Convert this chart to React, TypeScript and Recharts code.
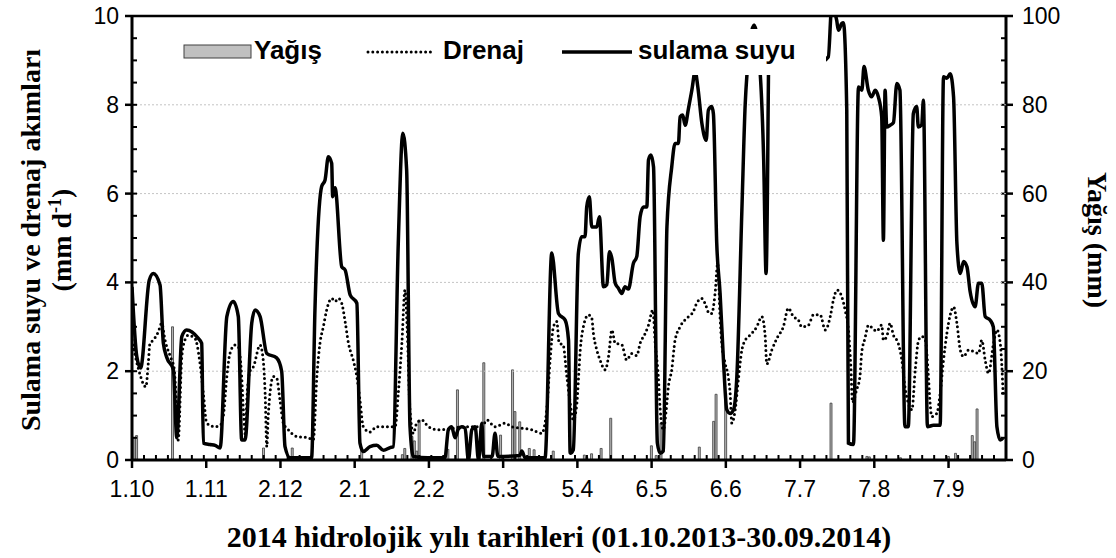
import React from "react";
import { ComposedChart, Bar, Line, XAxis, YAxis, ReferenceLine, Legend } from "recharts";

const W = 1116;
const H = 558;
const SANS = "'Liberation Sans', Arial, sans-serif";
const SERIF = "'Liberation Serif', 'Times New Roman', serif";

// x = day index from 01.10.2013
const xMajorDays = [0, 31, 62, 93, 124, 155, 186, 217, 248, 279, 310, 341];
const xMajorLabels = ["1.10", "1.11", "2.12", "2.1", "2.2", "5.3", "5.4", "6.5", "6.6", "7.7", "7.8", "7.9"];
const xMinorDays = Array.from({ length: 74 }, (_, i) => i * 5);
const xTicks = [...new Set([...xMinorDays, ...xMajorDays])].sort((a, b) => a - b);

const leftMajor = [0, 2, 4, 6, 8, 10];
const leftTicks = Array.from({ length: 21 }, (_, i) => i * 0.5);
const rightMajor = [0, 20, 40, 60, 80, 100];
const rightTicks = Array.from({ length: 21 }, (_, i) => i * 5);
const gridValues = [2, 4, 6, 8];

// sulama suyu (mm/d) [day, value]
const sulama: [number, number][] = [
  [0, 3.9], [2, 2.33], [3.6, 2.07], [7.2, 4.05], [8.9, 4.2], [11.7, 3.94], [13.1, 2.63], [14.6, 2.3],
  [17.3, 2.03], [18.7, 0.5], [20.8, 2.78], [22.8, 2.93], [27.7, 2.74], [29.1, 2.63], [29.8, 0.38],
  [32.6, 0.35], [34.7, 0.33], [36.8, 0.27], [39.6, 3.23], [42.3, 3.57], [44.4, 3.23], [45.8, 0.45],
  [47.2, 0.45], [50, 3.08], [51.4, 3.38], [53.5, 3.23], [56.3, 2.4], [60.4, 2.3], [62.5, 2.0],
  [63.9, 0.3], [66, 0.05], [75, 0.05], [76.4, 3.38], [79.2, 6.16], [80.6, 6.3], [82, 6.83],
  [83.4, 6.68], [83.8, 5.93], [84.8, 6.13], [87.6, 4.35], [89, 4.28], [91.1, 3.72], [93.9, 3.53],
  [95.2, 0.38], [96.6, 0.19], [99.4, 0.3], [102.2, 0.33], [105, 0.22], [107.8, 0.28], [109.1, 0.3],
  [111.2, 4.88], [113.1, 7.36], [114.7, 6.53], [116.1, 0.75], [117.5, 0.08], [123.6, 0.05],
  [130.7, 0.05], [132.1, 0.68], [133.5, 0.75], [134.9, 0.5], [136.3, 0.7], [137.7, 0.75],
  [139.1, 0.72], [140.5, 0], [141.9, 0.68], [143.3, 0.75], [144.7, 0], [146.1, 0.83], [146.8, 0.08],
  [150.4, 0.08], [151.6, 0.6], [152.8, 0.08], [162, 0.1], [162.8, 0.2], [164.2, 0.05], [172.5, 0.05],
  [175.3, 4.66], [178.1, 3.3], [180.9, 3.15], [182.3, 2.7], [183, 0.15], [184.3, 0.23], [186.4, 4.65],
  [187.8, 5.03], [189.2, 5.03], [189.9, 5.7], [191, 5.93], [192, 5.25], [194.1, 5.25], [195.2, 5.48],
  [196.9, 3.9], [198.3, 3.95], [199.4, 4.69], [200.4, 4.54], [201.8, 3.98], [203.1, 3.87],
  [204.5, 3.75], [205.9, 3.9], [207.3, 3.85], [209.4, 4.43], [210.8, 4.58], [212.2, 5.48],
  [213.6, 5.7], [215, 5.7], [215.7, 6.76], [216.7, 6.87], [217.8, 6.6], [219.4, 0.38], [220.6, 0.15],
  [221.9, 0.2], [223.4, 5.25], [225.4, 6.6], [226.8, 7.13], [228.2, 7.13], [228.9, 7.73], [230, 7.77],
  [231, 7.54], [232.4, 7.92], [233.8, 8.33], [235.2, 8.75], [236.3, 8.4], [238, 7.58], [239.8, 7.2],
  [240.7, 7.88], [242.1, 7.96], [242.8, 7.8], [244.2, 4.88], [245.6, 3.75], [247, 2.25], [248.4, 1.13],
  [249.8, 1.05], [251.2, 1.13], [252.6, 1.88], [254.7, 5.63], [256.1, 8.03], [256.8, 8.67],
  [259.8, 9.8], [262.4, 8.67], [263.8, 6.76], [264.8, 4.2], [265.5, 6.76], [265.8, 8.67], [268, 9.3],
  [274, 9.2], [281, 9.1], [287, 8.95], [290.8, 9.08], [292.2, 10.2], [294.3, 9.9], [295, 9.68],
  [296.4, 9.83], [297.1, 9.85], [298.5, 7.88], [299.2, 0.38], [301.3, 0.35], [303.4, 8.4],
  [304.8, 8.33], [305.7, 8.86], [307.5, 8.33], [308.9, 8.18], [310.4, 8.33], [311.7, 8.18],
  [313.1, 7.73], [313.8, 4.95], [314.5, 8.33], [315.2, 7.5], [316.6, 7.54], [318, 7.6], [319.4, 8.48],
  [320.7, 8.33], [322.8, 0.75], [324.2, 0.75], [326.3, 7.8], [327.7, 7.96], [328.4, 7.5],
  [329.8, 7.55], [330.5, 8.1], [332.2, 0.75], [334.7, 0.78], [337.5, 0.78], [338.9, 8.63],
  [340.3, 8.6], [341.7, 8.7], [343.1, 8.18], [344.5, 4.88], [345.9, 4.2], [347.3, 4.47], [348.7, 4.35],
  [350, 3.8], [352.1, 3.45], [353.5, 3.98], [354.9, 3.98], [356.3, 3.23], [358.4, 3.15], [359.7, 3.0],
  [361.2, 0.75], [362.6, 0.45], [363.8, 0.5],
];

// drenaj (mm/d) [day, value]
const drenaj: [number, number][] = [
  [0, 2.7], [2.6, 2.07], [5.8, 1.65], [6.8, 2.18], [7.5, 2.63], [8.9, 2.7], [11, 2.89], [12.4, 3.08],
  [13.8, 2.7], [16.6, 2.25], [17.5, 2.1], [18.7, 1.13], [19.3, 0.45], [20.8, 2.33], [22.1, 2.7],
  [23.5, 2.81], [26.3, 2.74], [28.4, 2.18], [29.8, 1.5], [31.2, 0.83], [34.7, 0.75], [36.8, 0.78],
  [38.1, 0.98], [39.6, 1.88], [40.9, 2.4], [43, 2.59], [44.4, 2.55], [45.8, 1.88], [46.5, 1.13],
  [47.4, 0.55], [48, 1.4], [49.3, 2.0], [50.7, 2.1], [53.5, 2.59], [54.8, 2.25], [55.6, 1.5],
  [56.3, 0.3], [56.9, 1.0], [59, 1.88], [60.4, 1.85], [61.8, 1.35], [63.2, 0.83], [65.3, 0.68],
  [68.8, 0.53], [73.6, 0.5], [75.7, 0.45], [77.2, 1.88], [78.5, 2.63], [79.9, 3.0], [81.3, 3.38],
  [83.4, 3.64], [84.8, 3.57], [86.2, 3.64], [87.6, 3.53], [89, 3.12], [90.4, 2.63], [92.4, 2.25],
  [93.9, 1.88], [95.2, 1.35], [96.6, 0.75], [99.4, 0.63], [102.2, 0.75], [107.8, 0.75], [109.9, 0.75],
  [111.2, 1.5], [112.7, 2.63], [114, 3.83], [114.9, 3.0], [116.1, 1.13], [117.5, 0.6], [118.9, 0.83],
  [121, 0.9], [123.8, 0.75], [128, 0.68], [132.1, 0.7], [139.1, 0.75], [146.1, 0.75], [148.2, 0.9],
  [151.6, 0.75], [155.8, 0.83], [158.6, 0.75], [167, 0.68], [171.1, 0.6], [173.2, 1.13], [174.6, 2.25],
  [176, 3.0], [177.4, 3.12], [178.4, 2.63], [180, 2.6], [181.6, 1.88], [183, 1.28], [184.3, 0.9],
  [185.8, 1.28], [186.5, 1.88], [187.2, 2.48], [188.5, 3.0], [190.6, 3.27], [192, 3.2], [192.7, 2.85],
  [194.1, 2.48], [195.5, 2.25], [197.6, 2.03], [199, 2.33], [200.4, 2.93], [201.8, 2.63], [204.5, 2.6],
  [206.6, 2.25], [208.7, 2.4], [210.8, 2.35], [212.2, 2.63], [214.3, 2.85], [215.7, 3.04],
  [217.5, 3.38], [218.5, 2.63], [219.8, 1.88], [220.6, 1.13], [221.9, 0.68], [223.1, 1.13], [224, 1.65],
  [225.4, 2.03], [226.8, 2.7], [228.9, 3.0], [232.4, 3.23], [234.4, 3.34], [235.8, 3.53], [238, 3.64],
  [239.3, 3.53], [241.1, 3.3], [242.1, 3.3], [243.5, 3.75], [244.6, 4.43], [245.6, 3.2], [246.3, 2.63],
  [247.7, 2.18], [249, 1.88], [249.8, 1.5], [250.5, 0.83], [251.9, 1.13], [253.2, 1.8], [254.7, 2.48],
  [256.1, 2.7], [258.1, 2.81], [260.9, 3.0], [263, 3.23], [264.4, 2.81], [265.1, 2.16], [267.2, 2.48],
  [269.3, 2.74], [272, 3.0], [274.1, 3.42], [276.2, 3.23], [278.3, 3.15], [279.7, 3.0], [282.5, 3.04],
  [284.6, 3.27], [287.4, 3.27], [289.5, 2.93], [291.6, 3.23], [292.9, 3.6], [294.4, 3.83],
  [296.4, 3.68], [297.8, 3.38], [299.2, 2.93], [300.2, 2.1], [300.9, 1.3], [302.6, 1.58], [304, 1.88],
  [304.7, 2.4], [306.1, 2.74], [307.6, 3.04], [309.1, 2.98], [311, 2.9], [313.1, 3.04], [313.8, 2.7],
  [315.2, 2.78], [316.6, 3.08], [318, 2.81], [320, 2.63], [321.5, 2.25], [322.8, 1.65], [324.2, 1.28],
  [325.7, 1.13], [327.1, 2.03], [328.5, 2.7], [329.9, 2.78], [331.3, 2.7], [332.6, 1.88], [333.3, 1.28],
  [334, 0.98], [336.1, 1.05], [337.5, 1.5], [338.9, 2.25], [340.3, 2.85], [341.7, 3.27], [343.1, 3.45],
  [344.5, 3.08], [345.9, 2.48], [347.3, 2.33], [349.4, 2.48], [351.3, 2.45], [353.5, 2.4], [354.9, 2.7],
  [356.3, 2.25], [357.7, 1.95], [359.8, 2.63], [361.2, 2.93], [362.6, 2.63], [363.8, 1.5],
];

// yağış (mm) [day, value]
const yagis: [number, number][] = [
  [1, 5.0], [2, 5.5], [17, 30], [55, 2.7], [67, 2.7], [96, 2.3], [113, 1.2], [114, 2.6], [117, 5.3],
  [118, 4.3], [119, 2.0], [120, 9.0], [132, 2.4], [136, 15.8], [145, 1.5], [147, 21.9], [154, 5.6],
  [159, 20.3], [160, 10.9], [162, 8.6], [166, 2.6], [168, 2.3], [176, 2.0], [189, 1.1], [190, 0.6],
  [192, 1.4], [196, 2.6], [200, 9.4], [217, 3.2], [219, 1.0], [221, 8.3], [237, 2.9], [243, 8.7],
  [244, 14.8], [248, 15.0], [292, 12.8], [307, 0.8], [308, 0.7], [321, 0.5], [341, 0.8], [344, 1.5],
  [351, 5.5], [352, 4.1], [353, 11.5],
];

const lineRows = new Map<number, any>();
const put = (d: number, key: string, v: number) => {
  const r = lineRows.get(d) ?? { day: d };
  r[key] = v;
  lineRows.set(d, r);
};
sulama.forEach(([d, v]) => put(d, "sulama", v));
drenaj.forEach(([d, v]) => put(d, "drenaj", v));
const lineData = [...lineRows.values()].sort((a, b) => a.day - b.day);
const barData = yagis.map(([day, v]) => ({ day, yagis: v }));

const TICK_FONT = 23;

function XTick(props: any) {
  const { x, y, payload } = props;
  const v = payload.value;
  const i = xMajorDays.indexOf(v);
  return (
    <g>
      {v % 5 === 0 && <line x1={x} x2={x} y1={y - 5} y2={y} stroke="#000" strokeWidth={2} />}
      {i >= 0 && <line x1={x} x2={x} y1={y} y2={y + 8} stroke="#000" strokeWidth={2.5} />}
      {i >= 0 && (
        <text x={x} y={y + 37} textAnchor="middle" fontSize={TICK_FONT} fontFamily={SANS} fill="#000">
          {xMajorLabels[i]}
        </text>
      )}
    </g>
  );
}

// left axis: tickSize 0, tickMargin 0 -> x is the axis line
function leftTick(props: any) {
  const { x, y, payload } = props;
  const v = Number(payload.value);
  const major = leftMajor.includes(v);
  return (
    <g key={`l-${v}`}>
      <line x1={x} x2={x + 5} y1={y} y2={y} stroke="#000" strokeWidth={2} />
      {major && <line x1={x - 7} x2={x} y1={y} y2={y} stroke="#000" strokeWidth={2.5} />}
      {major && (
        <text x={x - 13} y={y + 8} textAnchor="end" fontSize={TICK_FONT} fontFamily={SANS} fill="#000">{v}</text>
      )}
    </g>
  );
}

function rightTick(props: any) {
  const { x, y, payload } = props;
  const v = Number(payload.value);
  const major = rightMajor.includes(v);
  return (
    <g key={`r-${v}`}>
      <line x1={x - 5} x2={x} y1={y} y2={y} stroke="#000" strokeWidth={2} />
      {major && <line x1={x} x2={x + 7} y1={y} y2={y} stroke="#000" strokeWidth={2.5} />}
      {major && (
        <text x={x + 16} y={y + 8} textAnchor="start" fontSize={TICK_FONT} fontFamily={SANS} fill="#000">{v}</text>
      )}
    </g>
  );
}

function XTitle() {
  return (
    <text x={559} y={547} textAnchor="middle" fontSize={30} fontWeight="bold" fontFamily={SERIF} fill="#000">
      2014 hidrolojik yılı tarihleri (01.10.2013-30.09.2014)
    </text>
  );
}

function LeftTitle() {
  return (
    <g fontSize={28} fontWeight="bold" fontFamily={SERIF} fill="#000">
      <text x={40} y={240} textAnchor="middle" transform="rotate(-90, 40, 240)">
        Sulama suyu ve drenaj akımları
      </text>
      <text x={71} y={240} textAnchor="middle" transform="rotate(-90, 71, 240)">
        (mm d<tspan dy={-10} fontSize={18}>-1</tspan><tspan dy={10}>)</tspan>
      </text>
    </g>
  );
}

function RightTitle() {
  return (
    <text x={1088} y={240} textAnchor="middle" transform="rotate(90, 1088, 240)"
          fontSize={28} fontWeight="bold" fontFamily={SERIF} fill="#000">
      Yağış (mm)
    </text>
  );
}

function LegendBox() {
  const txt = { fontSize: 26, fontWeight: "bold" as const, fontFamily: SANS, fill: "#000" };
  return (
    <svg width={648} height={46} style={{ display: "block", background: "#fff" }}>
      <rect x={6} y={16} width={67} height={13} fill="#c0c0c0" stroke="#404040" strokeWidth={1} />
      <text x={76} y={30} {...txt}>Yağış</text>
      <line x1={190} x2={255} y1={23} y2={23} stroke="#000" strokeWidth={3}
            strokeDasharray="0 4.8" strokeLinecap="round" />
      <text x={265} y={30} {...txt}>Drenaj</text>
      <line x1={384} x2={454} y1={23} y2={23} stroke="#000" strokeWidth={3.5} />
      <text x={460} y={30} {...txt}>sulama suyu</text>
    </svg>
  );
}

export default function App() {
  return (
    <div style={{ position: "absolute", left: 0, top: 0, width: W, height: H, background: "#fff" }}>
      {/* bars + right axis */}
      <div style={{ position: "absolute", left: 0, top: 0 }}>
        <ComposedChart width={W} height={H} data={barData} margin={{ top: 16, right: 50, bottom: 98, left: 132 }}>
          <XAxis type="number" dataKey="day" domain={[0, 365]} allowDataOverflow hide />
          <YAxis yAxisId="right" orientation="right" type="number" domain={[0, 100]} ticks={rightTicks}
                 interval={0} width={60} tickSize={0} tickMargin={0} tickLine={false}
                 axisLine={{ stroke: "#000", strokeWidth: 3 }} tick={rightTick} label={<RightTitle />} />
          <Bar yAxisId="right" dataKey="yagis" barSize={2} fill="#b5b5b5" stroke="#3c3c3c" strokeWidth={0.8}
               isAnimationActive={false} />
        </ComposedChart>
      </div>
      {/* lines + left and bottom axes */}
      <div style={{ position: "absolute", left: 0, top: 0 }}>
        <ComposedChart width={W} height={H} data={lineData} margin={{ top: 16, right: 110, bottom: 58, left: 72 }}>
          <XAxis xAxisId="x" type="number" dataKey="day" domain={[0, 365]} allowDataOverflow
                 ticks={xTicks} interval={0} height={40} tickSize={0} tickMargin={0} tickLine={false}
                 axisLine={{ stroke: "#000", strokeWidth: 3 }} tick={<XTick />} label={<XTitle />} />
          <YAxis yAxisId="left" type="number" domain={[0, 10]} allowDataOverflow ticks={leftTicks}
                 interval={0} width={60} tickSize={0} tickMargin={0} tickLine={false}
                 axisLine={{ stroke: "#000", strokeWidth: 3 }} tick={leftTick} label={<LeftTitle />} />
          {gridValues.map(g => (
            <ReferenceLine key={g} xAxisId="x" yAxisId="left" y={g} stroke="#c4c4c4" strokeDasharray="2 2" strokeWidth={1} />
          ))}
          <ReferenceLine xAxisId="x" yAxisId="left" y={10} stroke="#000" strokeWidth={2.5} />
          <Line xAxisId="x" yAxisId="left" dataKey="drenaj" type="monotone" stroke="#000" strokeWidth={3}
                strokeDasharray="0 4.8" strokeLinecap="round" dot={false} connectNulls isAnimationActive={false} />
          <Line xAxisId="x" yAxisId="left" dataKey="sulama" type="monotone" stroke="#000" strokeWidth={3.5}
                dot={false} connectNulls isAnimationActive={false} />
          <Legend layout="horizontal" verticalAlign="middle" align="center" content={<LegendBox />}
                  wrapperStyle={{ left: 178, top: 29, width: 648, height: 46, background: "#fff" }} />
        </ComposedChart>
      </div>
    </div>
  );
}
